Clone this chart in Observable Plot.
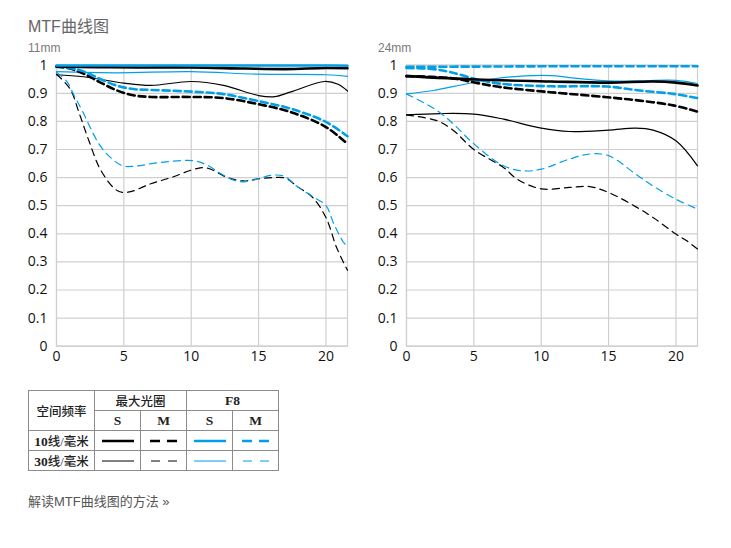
<!DOCTYPE html>
<html>
<head>
<meta charset="utf-8">
<script src="https://cdn.jsdelivr.net/npm/d3@7"></script>
<script src="https://cdn.jsdelivr.net/npm/@observablehq/plot@0.6"></script>
<style>
  body { margin:0; background:#fff; }
  .txt { position:absolute; font-family:"Liberation Sans","Noto Sans CJK SC",sans-serif; }
  table.lg { position:absolute; left:28px; top:390px; border-collapse:collapse;
    font-family:"Liberation Serif","Noto Sans CJK SC",serif; font-size:12.5px; font-weight:500; color:#222; }
  table.lg td { border:1px solid #8c8c8c; text-align:center; padding:0; height:19px; }
  table.lg .l { font-size:13.5px; font-weight:bold; }
  table.lg svg { display:block; margin:0 auto; }
</style>
</head>
<body>
<div class="txt" style="left:28px;top:13px;font-size:16px;color:#666;">MTF曲线图</div>
<div class="txt" style="left:28px;top:41px;font-size:12px;color:#7a7a7a;">11mm</div>
<div class="txt" style="left:378px;top:41px;font-size:12px;color:#7a7a7a;">24mm</div>
<div id="c1" style="position:absolute;left:0;top:55px;"></div>
<div id="c2" style="position:absolute;left:350px;top:55px;"></div>

<table class="lg">
  <tr><td rowspan="2" style="width:65px;">空间频率</td><td colspan="2">最大光圈</td><td colspan="2" class="l">F8</td></tr>
  <tr><td class="l" style="width:45px;">S</td><td class="l" style="width:45px;">M</td><td class="l" style="width:45px;">S</td><td class="l" style="width:45px;">M</td></tr>
  <tr><td><span class="l">10</span>线/毫米</td>
    <td><svg width="32" height="6"><line x1="0" y1="3" x2="32" y2="3" stroke="#000" stroke-width="2.5"/></svg></td>
    <td><svg width="27" height="6"><line x1="0" y1="3" x2="27" y2="3" stroke="#000" stroke-width="2.5" stroke-dasharray="10,7"/></svg></td>
    <td><svg width="32" height="6"><line x1="0" y1="3" x2="32" y2="3" stroke="#00a0e9" stroke-width="2.5"/></svg></td>
    <td><svg width="27" height="6"><line x1="0" y1="3" x2="27" y2="3" stroke="#00a0e9" stroke-width="2.5" stroke-dasharray="10,7"/></svg></td></tr>
  <tr><td><span class="l">30</span>线/毫米</td>
    <td><svg width="32" height="6"><line x1="0" y1="3" x2="32" y2="3" stroke="#000" stroke-width="1"/></svg></td>
    <td><svg width="26" height="6"><line x1="0" y1="3" x2="26" y2="3" stroke="#000" stroke-width="1" stroke-dasharray="9,8"/></svg></td>
    <td><svg width="32" height="6"><line x1="0" y1="3" x2="32" y2="3" stroke="#00a0e9" stroke-width="1"/></svg></td>
    <td><svg width="26" height="6"><line x1="0" y1="3" x2="26" y2="3" stroke="#00a0e9" stroke-width="1" stroke-dasharray="9,8"/></svg></td></tr>
</table>

<div class="txt" style="left:28px;top:491px;font-size:13px;color:#555;">解读MTF曲线图的方法 »</div>

<script>
// ---------- axes ----------
const xTicks = [0, 5, 10, 15, 20];
const yTicks = [0, 0.1, 0.2, 0.3, 0.4, 0.5, 0.6, 0.7, 0.8, 0.9, 1];
const xMax = 21.6;

// ---------- 11mm ----------
const w11_S10_open_x = [0, 3, 6, 10, 14, 17, 20, 21.6];
const w11_S10_open_y = [0.995, 0.993, 0.992, 0.992, 0.988, 0.986, 0.99, 0.989];
const w11_S10_f8_x = [0, 5, 10, 15, 20, 21.6];
const w11_S10_f8_y = [0.999, 0.999, 0.999, 0.999, 0.999, 0.998];
const w11_S30_open_x = [0, 2, 5, 7, 10, 12.4, 15, 16.2, 17.4, 19.9, 20.9, 21.6];
const w11_S30_open_y = [0.966, 0.959, 0.936, 0.928, 0.942, 0.928, 0.892, 0.888, 0.905, 0.942, 0.932, 0.908];
const w11_S30_f8_x = [0, 4.5, 10, 15, 20, 21.6];
const w11_S30_f8_y = [0.977, 0.973, 0.977, 0.968, 0.966, 0.96];
const w11_M10_open_x = [0, 1, 2, 3.2, 4.5, 5.7, 7, 10, 12.4, 14.9, 17.4, 20, 21.6];
const w11_M10_open_y = [0.995, 0.988, 0.97, 0.94, 0.91, 0.893, 0.887, 0.887, 0.883, 0.862, 0.833, 0.78, 0.72];
const w11_M10_f8_x = [0, 1, 2, 3.2, 4.5, 5.7, 7, 10, 12.4, 14.9, 17.4, 20, 21.6];
const w11_M10_f8_y = [0.995, 0.99, 0.978, 0.952, 0.927, 0.915, 0.912, 0.906, 0.897, 0.873, 0.845, 0.798, 0.747];
const w11_M30_open_x = [0, 1, 1.7, 2.4, 3.3, 4.5, 5.3, 7, 8.5, 10.4, 11.2, 12.7, 13.9, 15, 16, 17, 17.9, 19, 20, 20.8, 21.6];
const w11_M30_open_y = [0.968, 0.916, 0.827, 0.732, 0.625, 0.554, 0.548, 0.578, 0.6, 0.632, 0.634, 0.6, 0.588, 0.596, 0.6, 0.598, 0.567, 0.53, 0.458, 0.35, 0.27];
const w11_M30_f8_x = [0, 0.8, 1.3, 1.9, 3.15, 4, 4.9, 5.7, 7.7, 10.2, 11.2, 12.2, 13.2, 13.9, 15, 15.9, 16.9, 17.9, 19.1, 20, 20.6, 21.3, 21.6];
const w11_M30_f8_y = [0.975, 0.94, 0.893, 0.839, 0.72, 0.672, 0.642, 0.64, 0.654, 0.66, 0.644, 0.614, 0.59, 0.585, 0.596, 0.608, 0.605, 0.567, 0.53, 0.5, 0.434, 0.37, 0.355];

// ---------- 24mm ----------
const t24_S10_open_x = [0, 5.2, 10.7, 15, 18.3, 20, 21.6];
const t24_S10_open_y = [0.961, 0.949, 0.942, 0.938, 0.942, 0.938, 0.928];
const t24_S10_f8_x = [0, 5, 10, 15, 20, 21.6];
const t24_S10_f8_y = [0.994, 0.995, 0.996, 0.996, 0.996, 0.996];
const t24_S30_open_x = [0, 2.5, 5, 7.2, 10, 12.1, 15, 17, 18.3, 20, 21.6];
const t24_S30_open_y = [0.823, 0.828, 0.826, 0.808, 0.776, 0.764, 0.769, 0.776, 0.769, 0.731, 0.642];
const t24_S30_f8_x = [0, 2, 4.5, 7, 10.7, 12.1, 15, 17, 20, 21.6];
const t24_S30_f8_y = [0.898, 0.91, 0.934, 0.955, 0.963, 0.956, 0.944, 0.944, 0.946, 0.935];
const t24_M10_open_x = [0, 3.3, 5.2, 7, 10.7, 14.9, 17.3, 19.8, 21.6];
const t24_M10_open_y = [0.961, 0.954, 0.937, 0.922, 0.904, 0.886, 0.874, 0.857, 0.835];
const t24_M10_f8_x = [0, 2, 3.3, 5.2, 7, 10.7, 14.9, 17.3, 19.8, 21.6];
const t24_M10_f8_y = [0.99, 0.986, 0.975, 0.95, 0.934, 0.925, 0.924, 0.91, 0.898, 0.883];
const t24_M30_open_x = [0, 2.3, 3.5, 5, 7.2, 8.2, 10, 12.1, 13.6, 15, 17.1, 18.3, 20, 20.8, 21.6];
const t24_M30_open_y = [0.823, 0.802, 0.767, 0.7, 0.636, 0.595, 0.56, 0.565, 0.568, 0.547, 0.494, 0.458, 0.399, 0.375, 0.346];
const t24_M30_f8_x = [0, 2.3, 3.5, 5, 7.2, 8.7, 10, 12.1, 13.6, 15, 17, 18.3, 20, 21.6];
const t24_M30_f8_y = [0.898, 0.838, 0.79, 0.72, 0.642, 0.624, 0.63, 0.666, 0.684, 0.678, 0.613, 0.57, 0.523, 0.488];

const BLACK = "#000", BLUE = "#00a0e9";
const THICK = 2.6, THIN = 1.2;

function pts(xs, ys) { return xs.map((x, i) => ({x, y: ys[i]})); }

const series11 = [
  {x: w11_S30_open_x, y: w11_S30_open_y, c: BLACK, w: THIN, d: null},
  {x: w11_S30_f8_x, y: w11_S30_f8_y, c: BLUE, w: THIN, d: null},
  {x: w11_M30_open_x, y: w11_M30_open_y, c: BLACK, w: THIN, d: "7,5"},
  {x: w11_M30_f8_x, y: w11_M30_f8_y, c: BLUE, w: THIN, d: "7,5"},
  {x: w11_M10_open_x, y: w11_M10_open_y, c: BLACK, w: THICK, d: "7,4"},
  {x: w11_M10_f8_x, y: w11_M10_f8_y, c: BLUE, w: THICK, d: "7,4"},
  {x: w11_S10_open_x, y: w11_S10_open_y, c: BLACK, w: THICK, d: null},
  {x: w11_S10_f8_x, y: w11_S10_f8_y, c: BLUE, w: THICK, d: null}
];
const series24 = [
  {x: t24_S30_open_x, y: t24_S30_open_y, c: BLACK, w: THIN, d: null},
  {x: t24_S30_f8_x, y: t24_S30_f8_y, c: BLUE, w: THIN, d: null},
  {x: t24_M30_open_x, y: t24_M30_open_y, c: BLACK, w: THIN, d: "7,5"},
  {x: t24_M30_f8_x, y: t24_M30_f8_y, c: BLUE, w: THIN, d: "7,5"},
  {x: t24_M10_open_x, y: t24_M10_open_y, c: BLACK, w: THICK, d: "7,4"},
  {x: t24_M10_f8_x, y: t24_M10_f8_y, c: BLUE, w: THICK, d: "7,4"},
  {x: t24_S10_open_x, y: t24_S10_open_y, c: BLACK, w: THICK, d: null},
  {x: t24_S10_f8_x, y: t24_S10_f8_y, c: BLUE, w: THICK, d: "7,4"}
];

function chart(series) {
  return Plot.plot({
    width: 360, height: 320,
    marginLeft: 56, marginRight: 13, marginTop: 9.7, marginBottom: 29.3,
    style: {fontFamily: "'Open Sans', sans-serif", fontSize: "14px", color: "#111", background: "transparent"},
    x: {domain: [0, xMax], label: null},
    y: {domain: [0, 1], label: null},
    marks: [
      Plot.gridX(xTicks, {stroke: "#cfcfcf", strokeOpacity: 1, strokeWidth: 1.2}),
      Plot.gridY(yTicks, {stroke: "#cfcfcf", strokeOpacity: 1, strokeWidth: 1.2}),
      Plot.frame({stroke: "#cfcfcf", strokeWidth: 1.2}),
      Plot.axisX({ticks: xTicks, tickSize: 0, tickPadding: 5, label: null}),
      Plot.axisY({ticks: yTicks, tickSize: 0, tickPadding: 9, label: null,
        tickFormat: d => d === 1 ? "1" : d === 0 ? "0" : d.toFixed(1)}),
      ...series.map(s => Plot.line(pts(s.x, s.y), {
        x: "x", y: "y", stroke: s.c, strokeWidth: s.w,
        strokeDasharray: s.d || undefined, curve: "catmull-rom"
      }))
    ]
  });
}

document.getElementById("c1").appendChild(chart(series11));
document.getElementById("c2").appendChild(chart(series24));
</script>
</body>
</html>
